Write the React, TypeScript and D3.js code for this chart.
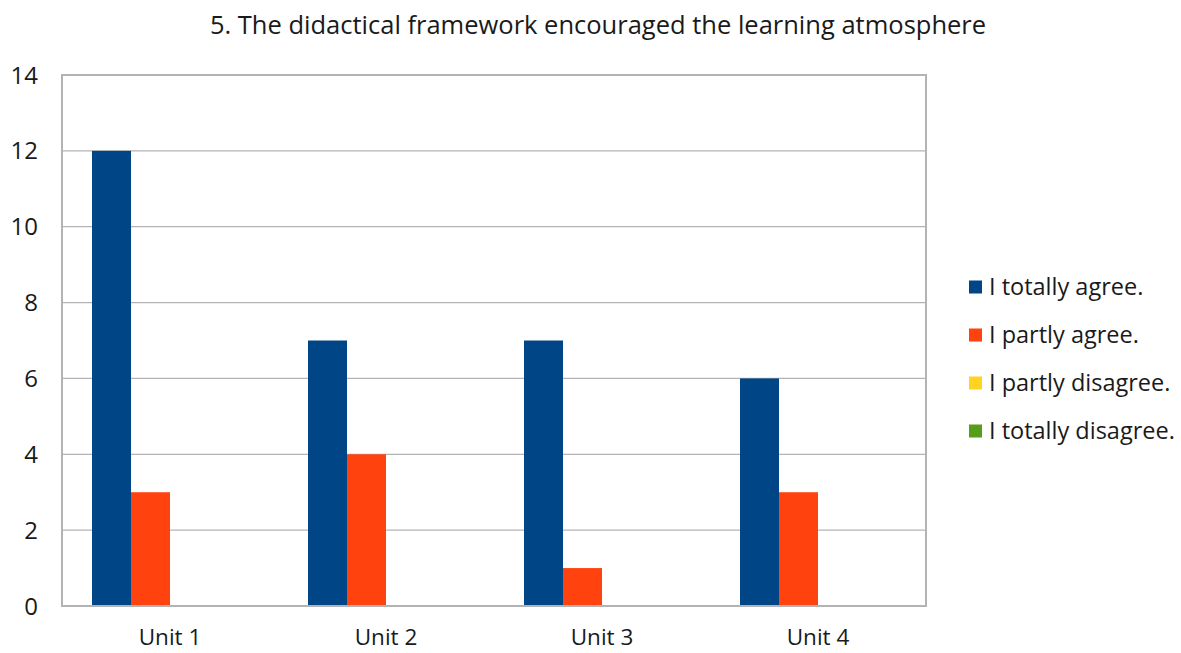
import React from "react";
import * as d3 from "d3";

const categories = ["Unit 1", "Unit 2", "Unit 3", "Unit 4"];
const seriesNames = ["I totally agree.", "I partly agree.", "I partly disagree.", "I totally disagree."];
const totallyAgree = [12, 7, 7, 6];
const partlyAgree = [3, 4, 1, 3];
const partlyDisagree = [0, 0, 0, 0];
const totallyDisagree = [0, 0, 0, 0];
const yTicks = [0, 2, 4, 6, 8, 10, 12, 14];
const colors = ["#004586", "#ff420e", "#ffd320", "#579d1c"];
const title = "5. The didactical framework encouraged the learning atmosphere";

const W = 1181;
const H = 653;
const plot = { left: 62, right: 926, top: 75, bottom: 606 };
const font = "'Open Sans', 'Noto Sans', sans-serif";
const textColor = "#1a1a1a";

export default function App() {
  const series = [totallyAgree, partlyAgree, partlyDisagree, totallyDisagree];
  const x0 = d3.scaleBand<string>().domain(categories).range([plot.left, plot.right]).paddingInner(0).paddingOuter(0);
  const bw = x0.bandwidth();
  const groupPad = 30;
  const x1 = d3
    .scaleBand<number>()
    .domain(d3.range(series.length))
    .range([groupPad, bw - groupPad])
    .padding(0);
  const y = d3.scaleLinear().domain([0, 14]).range([plot.bottom, plot.top]);

  return (
    <svg width={W} height={H} style={{ position: "absolute", left: 0, top: 0, background: "#fff" }}>
      <rect x={0} y={0} width={W} height={H} fill="#fff" />
      <text x={598} y={34} textAnchor="middle" fontFamily={font} fontSize={25.5} fill={textColor}>
        {title}
      </text>
      {/* gridlines */}
      {yTicks.map((t) => (
        <line key={t} x1={plot.left} x2={plot.right} y1={y(t)} y2={y(t)} stroke="#b3b3b3" strokeWidth={1.2} />
      ))}
      {/* y tick labels */}
      {yTicks.map((t) => (
        <text
          key={t}
          x={38}
          y={y(t)}
          dy="0.36em"
          textAnchor="end"
          fontFamily={font}
          fontSize={24}
          fill={textColor}
        >
          {t}
        </text>
      ))}
      {/* bars */}
      {categories.map((c, ci) => (
        <g key={c} transform={`translate(${x0(c)},0)`}>
          {series.map((s, si) =>
            s[ci] > 0 ? (
              <rect
                key={si}
                x={x1(si)}
                y={y(s[ci])}
                width={x1.bandwidth()}
                height={y(0) - y(s[ci])}
                fill={colors[si]}
              />
            ) : null
          )}
        </g>
      ))}
      {/* plot border */}
      <rect
        x={plot.left}
        y={plot.top}
        width={plot.right - plot.left}
        height={plot.bottom - plot.top}
        fill="none"
        stroke="#b3b3b3"
        strokeWidth={2}
      />
      {/* category labels */}
      {categories.map((c) => (
        <text
          key={c}
          x={(x0(c) as number) + bw / 2}
          y={645}
          textAnchor="middle"
          fontFamily={font}
          fontSize={22.5}
          fill={textColor}
        >
          {c}
        </text>
      ))}
      {/* legend */}
      {seriesNames.map((n, i) => (
        <g key={n} transform={`translate(969,${287 + i * 48})`}>
          <rect x={0} y={-6.5} width={13} height={13} fill={colors[i]} />
          <text x={20} y={0} dy="0.36em" fontFamily={font} fontSize={23.5} fill={textColor}>
            {n}
          </text>
        </g>
      ))}
    </svg>
  );
}
